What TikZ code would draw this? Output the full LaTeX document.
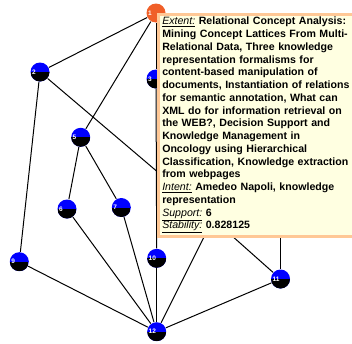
\documentclass[tikz,border=0pt]{standalone}
\usepackage{fontspec}
\setmainfont{Liberation Sans}
\usetikzlibrary{positioning}

\definecolor{tipfill}{RGB}{255,255,225}
\definecolor{tipline}{RGB}{255,200,150}
\definecolor{topball}{RGB}{240,95,40}

\begin{document}
\begin{tikzpicture}[x=1pt, y=-1pt, line width=1pt,
    ball/.style={circle, minimum size=19pt, inner sep=0pt, text width=16pt, align=left,
        text=white, font=\fontsize{6.5}{7}\selectfont\bfseries},
    concept/.style={ball, fill=blue,
        path picture={\fill[black] (path picture bounding box.west) rectangle (path picture bounding box.south east);}},
    topconcept/.style={ball, fill=topball},
    tip/.style={draw=tipline, line width=2.5pt, fill=tipfill, anchor=north west,
        text width=200pt, minimum height=222pt, inner xsep=4pt, inner ysep=0pt, align=left,
        font=\fontsize{10.6}{12.75}\selectfont\bfseries}]
    \useasboundingbox (0,0) rectangle (352,343);
    \clip (0,0) rectangle (352,343);

    % lattice
    \node[topconcept] (n1) at (156,13) {1};
    \node[concept] (n2) at (40,72) {2};
    \node[concept] (n3) at (156,79) {3};
    \coordinate (c4) at (280.5,90);
    \node[concept] (n5) at (80.7,137.3) {5};
    \node[concept] (n6) at (67,209) {6};
    \node[concept] (n7) at (121.3,207.5) {7};
    \coordinate (c8) at (213,219);
    \node[concept] (n9) at (19.3,261.7) {9};
    \node[concept] (n10) at (156.7,258.3) {10};
    \node[concept] (n11) at (280.5,279) {11};
    \node[concept] (n12) at (156.7,331.7) {12};

    \draw (n1) -- (n2);
    \draw (n1) -- (n3);
    \draw (n1) -- (c4);
    \draw (n1) -- (n5);
    \draw (n2) -- (n9);
    \draw (n2) -- (c8);
    \draw (n3) -- (n10);
    \draw (c4) -- (n11);
    \draw (n5) -- (n6);
    \draw (n5) -- (n7);
    \draw (c8) -- (n11);
    \draw (c8) -- (n12);
    \draw (n6) -- (n12);
    \draw (n7) -- (n12);
    \draw (n9) -- (n12);
    \draw (n10) -- (n12);
    \draw (n11) -- (n12);

    % tooltip of concept 1
    \node[tip] (info) at (157,13) {\underline{\mdseries\itshape Extent:} Relational Concept Analysis:\\
        Mining Concept Lattices From Multi-\\
        Relational Data, Three knowledge\\
        representation formalisms for\\
        content-based manipulation of\\
        documents, Instantiation of relations\\
        for semantic annotation, What can\\
        XML do for information retrieval on\\
        the WEB?, Decision Support and\\
        Knowledge Management in\\
        Oncology using Hierarchical\\
        Classification, Knowledge extraction\\
        from webpages\\
        \underline{\mdseries\itshape Intent:} Amedeo Napoli, knowledge\\
        representation\\
        \underline{\mdseries\itshape Support:} 6\\
        \underline{\mdseries\itshape Stability:} 0.828125};
\end{tikzpicture}
\end{document}
